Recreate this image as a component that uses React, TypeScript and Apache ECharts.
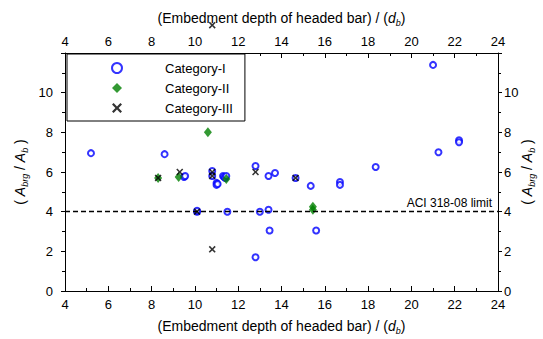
import React, { useEffect, useRef } from "react";
import * as echarts from "echarts";

const xTicks = [4, 6, 8, 10, 12, 14, 16, 18, 20, 22, 24];
const yTicks = [0, 2, 4, 6, 8, 10, 12];
const aciLimit = 4;
const aciLabel = "ACI 318-08 limit";

const categoryI: [number, number][] = [
  [5.2, 6.95], [8.6, 6.9], [9.5, 5.75], [9.55, 5.8], [10.1, 4.0], [10.1, 4.05],
  [10.8, 6.05], [10.8, 5.8], [11.0, 5.45], [11.0, 5.35], [11.05, 5.4],
  [11.3, 5.8], [11.35, 5.75], [11.4, 5.7], [11.45, 5.8], [11.5, 4.0],
  [12.8, 6.3], [12.8, 1.7], [13.0, 4.0], [13.4, 4.1], [13.4, 5.8], [13.7, 5.95],
  [13.45, 3.05], [14.65, 5.7], [15.35, 5.3], [15.6, 3.05], [16.7, 5.5], [16.7, 5.35],
  [18.35, 6.25], [21.0, 11.4], [21.25, 7.0], [22.2, 7.6], [22.2, 7.5],
];
const categoryII: [number, number][] = [
  [8.3, 5.7], [9.25, 5.75], [10.6, 8.0], [11.45, 5.65], [15.45, 4.25], [15.45, 4.1],
];
const categoryIII: [number, number][] = [
  [8.3, 5.7], [9.3, 6.0], [10.1, 4.0], [10.8, 6.0], [10.8, 5.8], [10.8, 2.1],
  [10.8, 13.4], [12.8, 6.0], [14.65, 5.7],
];

const FONT = "Liberation Sans, Arial, sans-serif";
const X_SYMBOL =
  "path://M0,1.6 L1.6,0 L5,3.4 L8.4,0 L10,1.6 L6.6,5 L10,8.4 L8.4,10 L5,6.6 L1.6,10 L0,8.4 L3.4,5 Z";

const rich = {
  n: { fontSize: 14, fontFamily: FONT, color: "#000", lineHeight: 18 },
  i: { fontSize: 14, fontFamily: FONT, color: "#000", fontStyle: "italic", lineHeight: 18 },
  s: { fontSize: 9, fontFamily: FONT, color: "#000", fontStyle: "italic", lineHeight: 9, verticalAlign: "bottom" },
};
const xName = "{n|(Embedment depth of headed bar) / (}{i|d}{s|b}{n|)}";
const yName = "{n|( }{i|A}{s|brg}{n| / }{i|A}{s|b}{n| )}";

export default function App() {
  const ref = useRef<HTMLDivElement>(null);
  useEffect(() => {
    if (!ref.current) return;
    const chart = echarts.init(ref.current, undefined, { renderer: "svg" });
    const xMin = xTicks[0];
    const xMax = xTicks[xTicks.length - 1];
    const yMin = yTicks[0];
    const yMax = yTicks[yTicks.length - 1];
    const xAxisBase = (pos: "top" | "bottom") => ({
      type: "value",
      position: pos,
      min: xMin,
      max: xMax,
      interval: 2,
      name: xName,
      nameLocation: "middle",
      nameGap: 26,
      nameMoveOverlap: false,
      nameTextStyle: { rich },
      axisLine: { show: true, onZero: false, lineStyle: { color: "#000", width: 1 } },
      axisTick: { show: true, inside: true, length: 5, lineStyle: { color: "#000" } },
      minorTick: { show: true, splitNumber: 2, length: 3, lineStyle: { color: "#000" } },
      splitLine: { show: false },
      axisLabel: { fontSize: 13, fontFamily: FONT, color: "#000", margin: pos === "top" ? 5 : 7 },
    });
    const yAxisBase = (pos: "left" | "right") => ({
      type: "value",
      position: pos,
      min: yMin,
      max: yMax,
      interval: 2,
      name: yName,
      nameLocation: "middle",
      nameRotate: 90,
      nameGap: pos === "left" ? 36 : 20,
      nameMoveOverlap: false,
      nameTextStyle: { rich },
      axisLine: { show: true, onZero: false, lineStyle: { color: "#000", width: 1 } },
      axisTick: { show: true, inside: false, length: 4, lineStyle: { color: "#000" } },
      minorTick: { show: true, splitNumber: 2, length: 3, lineStyle: { color: "#000" } },
      splitLine: { show: false },
      axisLabel: {
        fontSize: 13,
        fontFamily: FONT,
        color: "#000",
        margin: pos === "left" ? 12 : 6,
        formatter: (v: number) => (v === yMax ? "" : String(v)),
      },
    });
    chart.setOption({
      animation: false,
      grid: { left: 65, right: 45, top: 53, bottom: 48, containLabel: false, outerBoundsMode: "none" },
      legend: {
        orient: "vertical",
        left: 67,
        top: 54,
        padding: [7, 12, 6, 44],
        itemGap: 6,
        itemWidth: 10,
        itemHeight: 10,
        backgroundColor: "#fff",
        borderColor: "#000",
        borderWidth: 1,
        textStyle: { fontSize: 13, fontFamily: FONT, color: "#000", padding: [0, 0, 0, 38], lineHeight: 14 },
        data: ["Category-I", "Category-II", "Category-III"],
      },
      xAxis: [xAxisBase("bottom"), xAxisBase("top")],
      yAxis: [yAxisBase("left"), yAxisBase("right")],
      series: [
        {
          name: "Category-I",
          type: "scatter",
          data: categoryI,
          symbol: "circle",
          symbolSize: 6,
          itemStyle: { color: "#fff", borderColor: "#0000ff", borderWidth: 2 },
          markLine: {
            silent: true,
            symbol: "none",
            data: [{ yAxis: aciLimit }],
            lineStyle: { color: "#000", type: [5, 3], width: 1.3 },
            label: {
              show: true,
              position: "insideEndTop",
              formatter: aciLabel,
              fontSize: 12,
              fontFamily: FONT,
              color: "#000",
              distance: [6, 3],
            },
          },
          z: 2,
        },
        {
          name: "Category-II",
          type: "scatter",
          data: categoryII,
          symbol: "diamond",
          symbolSize: [8, 10],
          itemStyle: { color: "#008000" },
          z: 3,
        },
        {
          name: "Category-III",
          type: "scatter",
          data: categoryIII,
          symbol: X_SYMBOL,
          symbolSize: 7,
          clip: false,
          itemStyle: { color: "#000" },
          z: 4,
        },
      ],
    });
    return () => chart.dispose();
  }, []);
  return <div ref={ref} style={{ width: 543, height: 339, position: "absolute", left: 0, top: 0 }} />;
}
